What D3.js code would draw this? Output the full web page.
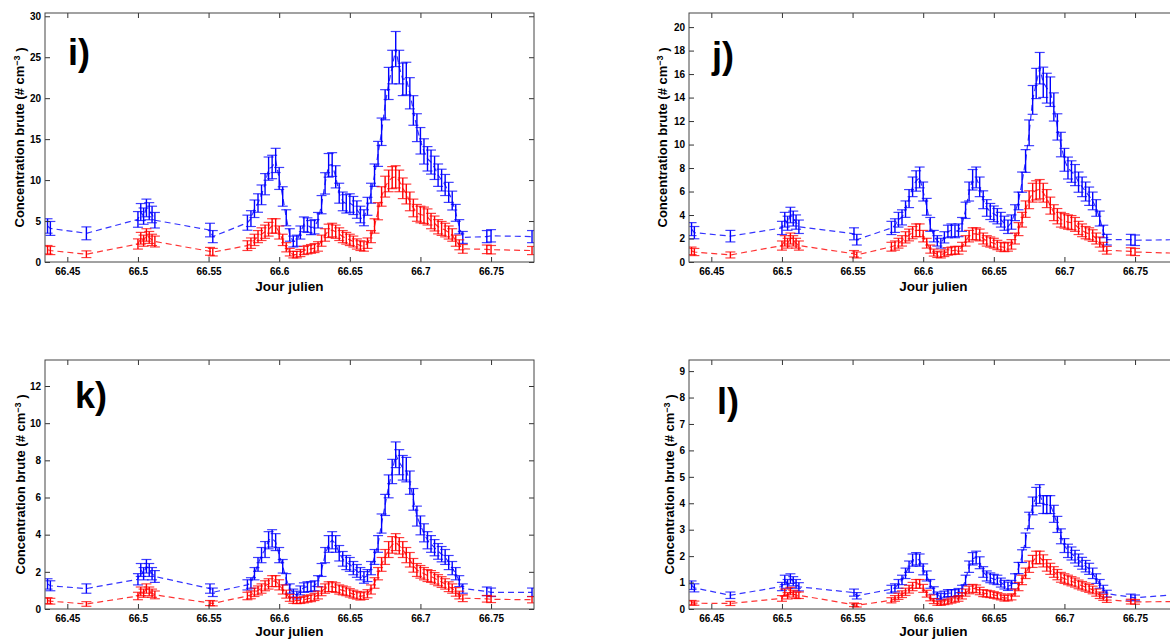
<!DOCTYPE html>
<html>
<head>
<meta charset="utf-8">
<script src="https://cdn.jsdelivr.net/npm/d3@7"></script>
<style>
  body { margin: 0; background: #fff; }
  text { font-family: Arial, "Liberation Sans", sans-serif; font-weight: bold; fill: #000; }
</style>
</head>
<body>
<svg id="chart" width="1170" height="639"></svg>
<script>
// Jour julien of each measurement (sparse start, dense event, sparse end)
const jourJulien = [
  66.436, 66.438, 66.4635, 66.500, 66.502, 66.504, 66.506, 66.508, 66.510, 66.512, 66.551, 66.553,
  66.5775, 66.5800, 66.5825, 66.5850, 66.5875, 66.5900, 66.5925, 66.5950, 66.5975, 66.6000,
  66.6025, 66.6050, 66.6075, 66.6100, 66.6125, 66.6150, 66.6175, 66.6200, 66.6225, 66.6250,
  66.6275, 66.6300, 66.6325, 66.6350, 66.6375, 66.6400, 66.6425, 66.6450, 66.6475, 66.6500,
  66.6525, 66.6550, 66.6575, 66.6600, 66.6625, 66.6650, 66.6675, 66.6700, 66.6725, 66.6750,
  66.6775, 66.6800, 66.6825, 66.6850, 66.6875, 66.6900, 66.6925, 66.6950, 66.6975, 66.7000,
  66.7025, 66.7050, 66.7075, 66.7100, 66.7125, 66.7150, 66.7175, 66.7200, 66.7225, 66.7250,
  66.7275, 66.7300,
  66.747, 66.750, 66.779
];

// panel i)
const blueI = [
  4.4, 4.1, 3.5, 5.2, 6.1, 5.6, 6.6, 6.2, 5.8, 5.1, 3.9, 3.1,
  4.8, 5.3, 6.5, 7.2, 8.2, 9.5, 11.4, 11.6, 12.4, 10.2,
  8.0, 5.4, 3.3, 2.5, 2.6, 3.6, 4.6, 4.5, 4.2, 4.3,
  5.1, 7.0, 9.6, 11.8, 11.9, 10.4, 8.4, 7.4, 7.1, 7.2,
  6.9, 6.4, 5.8, 5.4, 6.8, 8.4, 10.6, 13.2, 15.9, 19.2,
  21.8, 23.8, 26.0, 23.8, 22.3, 22.4, 20.6, 18.5, 16.4, 14.8,
  13.5, 12.6, 12.2, 11.5, 10.6, 10.0, 9.4, 8.5, 7.5, 6.0,
  4.3, 3.0,
  3.1, 3.2, 3.1
];
const redI = [
  1.5, 1.4, 0.95, 2.2, 2.9, 2.6, 3.3, 3.0, 2.7, 2.5, 1.3, 1.2,
  2.0, 2.3, 2.7, 3.1, 3.4, 3.7, 4.0, 4.4, 4.4, 3.6,
  2.7, 1.8, 1.2, 0.9, 0.9, 1.1, 1.4, 1.5, 1.6, 1.7,
  1.9, 2.6, 3.3, 3.8, 3.9, 3.7, 3.4, 3.1, 2.9, 2.7,
  2.5, 2.2, 2.0, 1.9, 2.3, 3.1, 4.4, 6.2, 8.0, 9.2,
  9.9, 10.3, 10.4, 9.9, 9.0, 8.3, 7.4, 6.6, 6.0, 5.8,
  5.7, 5.5, 5.0, 4.7, 4.3, 4.1, 3.9, 3.6, 3.3, 2.6,
  2.1, 1.6,
  1.55, 1.5, 1.4
];

// panel j)
const blueJ = [
  2.8, 2.5, 2.2, 2.9, 3.6, 3.3, 4.0, 3.7, 3.4, 3.0, 2.4, 1.9,
  2.9, 3.1, 3.6, 3.8, 4.5, 5.4, 6.4, 6.9, 7.2, 6.0,
  4.7, 3.2, 2.2, 1.8, 1.6, 2.1, 2.6, 2.7, 2.6, 2.7,
  3.2, 4.4, 6.0, 7.0, 7.2, 6.4, 5.3, 4.6, 4.3, 4.1,
  3.9, 3.6, 3.3, 3.0, 3.4, 4.2, 5.2, 6.8, 8.6, 11.0,
  13.8, 15.2, 16.5, 15.3, 14.8, 14.5, 13.2, 11.5, 10.0, 8.7,
  8.0, 7.7, 7.4, 6.8, 6.4, 6.0, 5.6, 5.2, 4.6, 3.7,
  2.6, 1.9,
  1.9, 1.85, 1.9
];
const redJ = [
  0.95, 0.85, 0.6, 1.4, 1.8, 1.6, 2.0, 1.8, 1.6, 1.4, 0.7, 0.6,
  1.3, 1.4, 1.6, 1.8, 2.1, 2.3, 2.5, 2.7, 2.7, 2.2,
  1.6, 1.1, 0.8, 0.65, 0.6, 0.75, 0.9, 0.95, 1.0, 1.0,
  1.3, 1.8, 2.2, 2.4, 2.4, 2.3, 2.0, 1.8, 1.7, 1.6,
  1.45, 1.3, 1.25, 1.3, 1.5, 2.0, 2.8, 3.6, 4.5, 5.3,
  5.9, 6.1, 6.2, 5.9, 5.4, 4.8, 4.2, 3.9, 3.6, 3.5,
  3.4, 3.35, 3.2, 2.9, 2.7, 2.5, 2.4, 2.25, 2.0, 1.7,
  1.3, 1.0,
  0.9, 0.85, 0.75
];

// panel k)
const blueK = [
  1.35, 1.25, 1.1, 1.6, 2.1, 1.9, 2.3, 2.1, 1.9, 1.75, 1.1, 0.9,
  1.3, 1.4, 1.9, 2.4, 2.9, 3.2, 3.7, 3.8, 3.6, 2.9,
  2.3, 1.6, 1.1, 0.85, 0.75, 1.0, 1.15, 1.2, 1.2, 1.25,
  1.5, 2.1, 2.9, 3.5, 3.7, 3.5, 3.0, 2.7, 2.5, 2.4,
  2.2, 2.05, 1.9, 1.7, 1.8, 2.2, 2.8, 3.5, 4.6, 5.6,
  6.6, 7.4, 8.3, 7.9, 7.6, 7.5, 6.8, 5.9, 5.0, 4.5,
  4.1, 3.7, 3.5, 3.3, 3.1, 2.95, 2.8, 2.5, 2.2, 1.9,
  1.5, 1.1,
  0.95, 0.9, 0.9
];
const redK = [
  0.45, 0.42, 0.27, 0.7, 0.95, 0.85, 1.1, 0.95, 0.85, 0.76, 0.32, 0.3,
  0.7, 0.76, 0.9, 1.0, 1.1, 1.25, 1.35, 1.5, 1.5, 1.3,
  1.05, 0.8, 0.6, 0.47, 0.45, 0.46, 0.5, 0.55, 0.58, 0.65,
  0.75, 0.95, 1.1, 1.2, 1.2, 1.15, 1.05, 1.0, 0.95, 0.87,
  0.8, 0.74, 0.68, 0.72, 0.82, 1.05, 1.4, 1.9, 2.4, 2.8,
  3.2, 3.45, 3.6, 3.4, 3.2, 2.9, 2.65, 2.35, 2.1, 2.0,
  1.9, 1.8, 1.75, 1.65, 1.55, 1.45, 1.35, 1.2, 1.1, 0.92,
  0.75, 0.58,
  0.55, 0.52, 0.5
];

// panel l)
const blueL = [
  0.9, 0.8, 0.52, 0.85, 1.1, 0.95, 1.15, 1.05, 0.95, 0.84, 0.62, 0.5,
  0.75, 0.8, 0.95, 1.1, 1.35, 1.6, 1.85, 1.9, 1.85, 1.5,
  1.25, 0.95, 0.7, 0.52, 0.47, 0.55, 0.6, 0.6, 0.6, 0.64,
  0.75, 1.1, 1.6, 1.9, 1.95, 1.75, 1.4, 1.25, 1.18, 1.13,
  1.1, 1.0, 0.92, 0.86, 0.92, 1.15, 1.55, 2.0, 2.6, 3.35,
  3.9, 4.25, 4.35, 3.95, 3.95, 3.95, 3.6, 3.2, 2.75, 2.4,
  2.2, 2.1, 1.98, 1.85, 1.73, 1.62, 1.52, 1.35, 1.15, 0.95,
  0.75, 0.58,
  0.45, 0.42, 0.55
];
const redL = [
  0.24, 0.22, 0.21, 0.4, 0.62, 0.5, 0.68, 0.58, 0.52, 0.52, 0.16, 0.14,
  0.33, 0.4, 0.48, 0.56, 0.65, 0.75, 0.85, 0.95, 0.95, 0.78,
  0.58, 0.42, 0.3, 0.22, 0.22, 0.25, 0.28, 0.32, 0.36, 0.4,
  0.5, 0.62, 0.72, 0.78, 0.76, 0.68, 0.6, 0.58, 0.56, 0.53,
  0.5, 0.46, 0.41, 0.42, 0.46, 0.62, 0.85, 1.1, 1.35, 1.6,
  1.8, 1.95, 1.95, 1.82, 1.65, 1.52, 1.4, 1.3, 1.2, 1.15,
  1.1, 1.05, 1.0, 0.93, 0.88, 0.83, 0.78, 0.72, 0.62, 0.52,
  0.44, 0.35,
  0.28, 0.27, 0.28
];

// relative counting uncertainty of each panel (error = coef * sqrt(value))
const errCoef = [0.42, 0.33, 0.24, 0.17];

const xTicks = [66.45, 66.5, 66.55, 66.6, 66.65, 66.7, 66.75];
const xTickLabels = ["66.45", "66.5", "66.55", "66.6", "66.65", "66.7", "66.75"];
const yTicksI = [0, 5, 10, 15, 20, 25, 30];
const yTicksJ = [0, 2, 4, 6, 8, 10, 12, 14, 16, 18, 20];
const yTicksK = [0, 2, 4, 6, 8, 10, 12];
const yTicksL = [0, 1, 2, 3, 4, 5, 6, 7, 8, 9];
const yMaxes = [30.4, 21.2, 13.4, 9.42];
const panelLabels = ["i)", "j)", "k)", "l)"];
const xTitle = "Jour julien";

const xDomain = [66.4342, 66.7804];
const plotW = 489;

// layout of the four panels
const panels = [
  { blue: blueI, red: redI, yTicks: yTicksI, left: 45,  top: 13,  h: 249, lab: [23, 52], yTitleOff: 26, xTitleOff: 28.5 },
  { blue: blueJ, red: redJ, yTicks: yTicksJ, left: 689, top: 13,  h: 249, lab: [23, 55], yTitleOff: 27, xTitleOff: 28.5 },
  { blue: blueK, red: redK, yTicks: yTicksK, left: 45,  top: 360, h: 249, lab: [30, 48], yTitleOff: 25, xTitleOff: 26.5 },
  { blue: blueL, red: redL, yTicks: yTicksL, left: 689, top: 360, h: 249, lab: [28, 54], yTitleOff: 20, xTitleOff: 26.5 }
];

const svg = d3.select("#chart");

panels.forEach((p, idx) => {
  const g = svg.append("g").attr("transform", `translate(${p.left},${p.top})`);

  const x = d3.scaleLinear().domain(xDomain).range([0, plotW]);
  const y = d3.scaleLinear().domain([0, yMaxes[idx]]).range([p.h, 0]);

  g.append("clipPath").attr("id", "clip" + idx)
    .append("rect").attr("width", plotW).attr("height", p.h);

  const plot = g.append("g").attr("clip-path", `url(#clip${idx})`);

  // blue series first, red drawn on top
  [[p.blue, "#0000ff"], [p.red, "#ff0000"]].forEach(([vals, col]) => {
    const pts = jourJulien.map((t, i) => ({
      t: t, v: vals[i], e: errCoef[idx] * Math.sqrt(vals[i])
    }));

    const eb = plot.append("g").attr("stroke", col);
    eb.selectAll(".stem").data(pts).join("line")
      .attr("x1", d => x(d.t)).attr("x2", d => x(d.t))
      .attr("y1", d => y(d.v - d.e)).attr("y2", d => y(d.v + d.e))
      .attr("stroke-width", 1.4);
    eb.selectAll(".capTop").data(pts).join("line")
      .attr("x1", d => x(d.t) - 5).attr("x2", d => x(d.t) + 5)
      .attr("y1", d => y(d.v + d.e)).attr("y2", d => y(d.v + d.e))
      .attr("stroke-width", 1.2).attr("stroke-opacity", 0.75);
    eb.selectAll(".capBot").data(pts).join("line")
      .attr("x1", d => x(d.t) - 5).attr("x2", d => x(d.t) + 5)
      .attr("y1", d => y(d.v - d.e)).attr("y2", d => y(d.v - d.e))
      .attr("stroke-width", 1.2).attr("stroke-opacity", 0.75);

    plot.append("path")
      .datum(pts)
      .attr("fill", "none")
      .attr("stroke", col)
      .attr("stroke-width", 1.2)
      .attr("stroke-dasharray", "6,4")
      .attr("stroke-opacity", 0.8)
      .attr("d", d3.line().x(d => x(d.t)).y(d => y(d.v)));
  });

  // axes with inward ticks on all four sides
  const bottom = g.append("g").attr("transform", `translate(0,${p.h})`)
    .call(d3.axisBottom(x).tickValues(xTicks)
      .tickFormat((d, i) => xTickLabels[i]).tickSize(-5).tickPadding(6));
  const top = g.append("g")
    .call(d3.axisTop(x).tickValues(xTicks).tickFormat("").tickSize(-5));
  const left = g.append("g")
    .call(d3.axisLeft(y).tickValues(p.yTicks).tickFormat(d3.format("d")).tickSize(-5).tickPadding(4));
  const right = g.append("g").attr("transform", `translate(${plotW},0)`)
    .call(d3.axisRight(y).tickValues(p.yTicks).tickFormat("").tickSize(-5));

  [bottom, top, left, right].forEach(a => {
    a.select(".domain").remove();
    a.selectAll(".tick line").attr("stroke", "#333");
    a.selectAll("text").style("font-size", "10px").attr("fill", "#000");
  });

  g.append("rect")
    .attr("width", plotW).attr("height", p.h)
    .attr("fill", "none").attr("stroke", "#444").attr("stroke-width", 1);

  // panel letter
  g.append("text")
    .attr("x", p.lab[0]).attr("y", p.lab[1])
    .style("font-size", "36px")
    .text(panelLabels[idx]);

  // x title
  g.append("text")
    .attr("x", plotW / 2).attr("y", p.h + p.xTitleOff)
    .attr("text-anchor", "middle")
    .style("font-size", "13.5px")
    .text(xTitle);

  // y title
  const yt = g.append("text")
    .attr("transform", `translate(${-p.yTitleOff},${p.h / 2}) rotate(-90)`)
    .attr("text-anchor", "middle")
    .attr("dy", "0.35em")
    .style("font-size", "13px");
  yt.append("tspan").text("Concentration brute (# cm");
  yt.append("tspan").attr("dy", "-0.45em").style("font-size", "9px").text("\u22123");
  yt.append("tspan").attr("dy", "0.45em").text(" )");
});
</script>
</body>
</html>
